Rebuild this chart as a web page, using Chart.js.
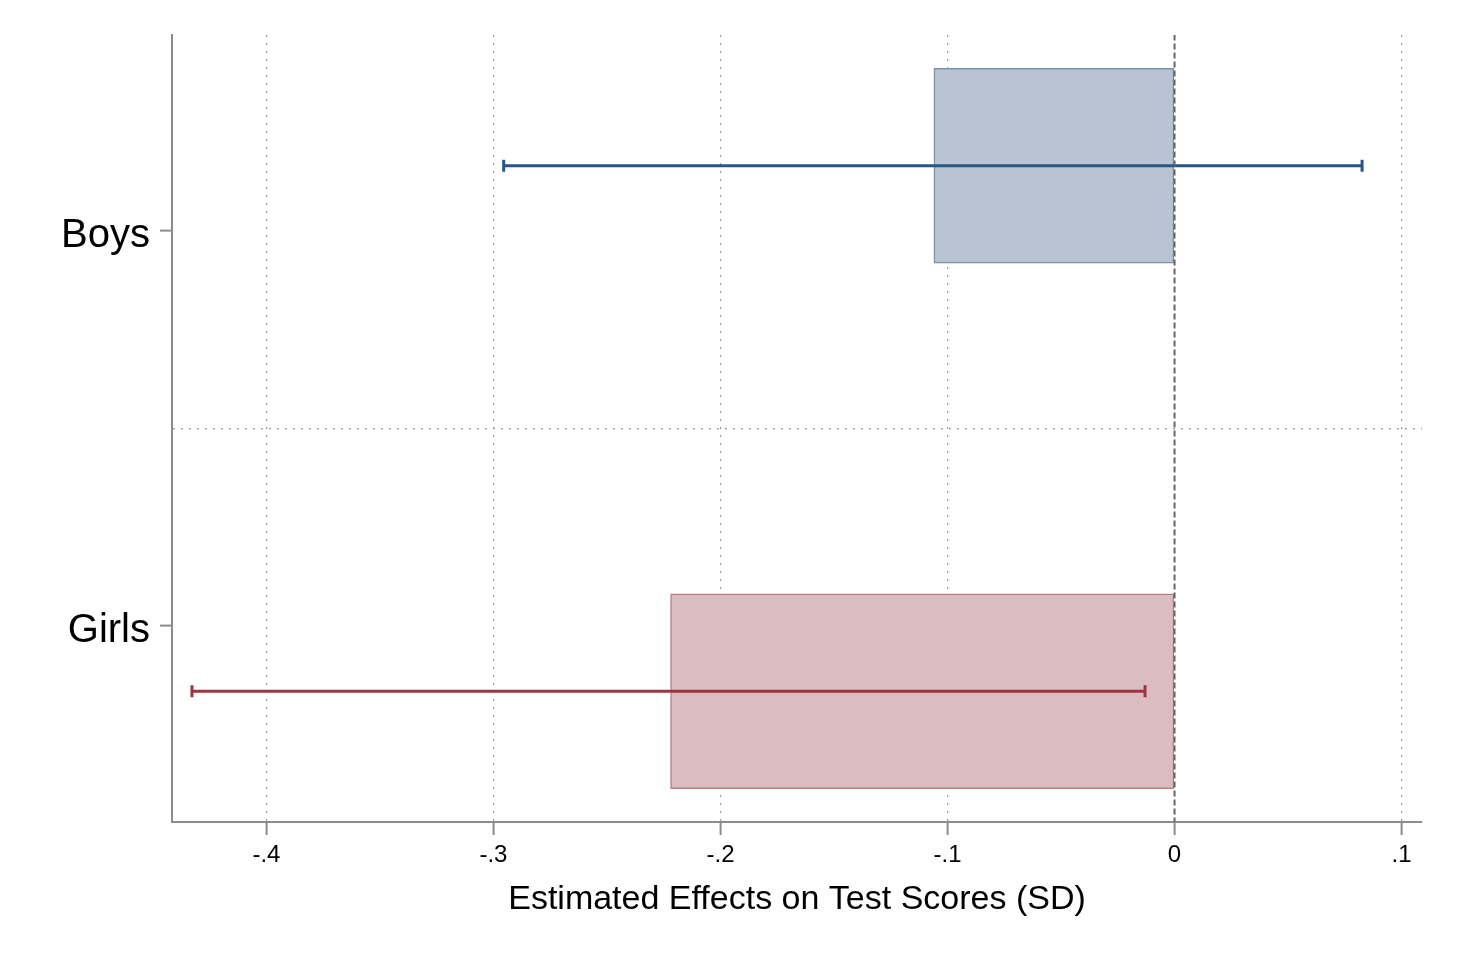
<!DOCTYPE html>
<html>
<head>
<meta charset="utf-8">
<title>Estimated Effects on Test Scores</title>
<script src="https://cdn.jsdelivr.net/npm/chart.js@4.4.1/dist/chart.umd.min.js"></script>
<style>
    html, body { margin: 0; padding: 0; background: #fff; }
    #wrap { width: 1458px; height: 972px; }
</style>
</head>
<body>
<div id="wrap"><canvas id="effectsChart" width="1458" height="972"></canvas></div>
<script>
// ====== Data ======
const groups = ['Boys', 'Girls'];
const groupPos = [2, 1];               // y value of each category tick
const estimates = [-0.106, -0.222];    // point estimate (bar length, SD)
const ciLow = [-0.2955, -0.4328];
const ciHigh = [0.0826, -0.0130];
const xTicks = [-0.4, -0.3, -0.2, -0.1, 0, 0.1];

// bars and CIs sit a bit off the tick
const barShift = [0.165, -0.165];

const barFill = ['rgb(184,196,210)', 'rgb(219,189,193)'];
const barEdge = ['rgb(120,146,176)', 'rgb(188,126,134)'];
const ciColor = ['rgb(38,86,136)', 'rgb(160,52,62)'];

const axisGray = '#8c8c8c';
const gridGray = '#9a9a9a';

(function () {
    const datasets = [];

    // zero reference line
    datasets.push({
        type: 'line',
        data: [{ x: 0, y: 0.5 }, { x: 0, y: 2.5 }],
        borderColor: '#666',
        borderWidth: 2,
        borderDash: [6, 3],
        pointRadius: 0,
        order: 0
    });

    groups.forEach((g, i) => {
        const yc = groupPos[i] + barShift[i];
        // confidence interval
        datasets.push({
            type: 'line',
            label: g + ' CI',
            data: [{ x: ciLow[i], y: yc }, { x: ciHigh[i], y: yc }],
            borderColor: ciColor[i],
            borderWidth: 3,
            pointStyle: 'line',
            rotation: 90,
            pointRadius: 6,
            pointBorderWidth: 3,
            pointBorderColor: ciColor[i],
            order: 1
        });
        // estimate bar
        datasets.push({
            type: 'bar',
            indexAxis: 'y',
            grouped: false,
            label: g,
            data: [{ y: yc, x: [estimates[i], 0] }],
            backgroundColor: barFill[i],
            borderColor: barEdge[i],
            borderWidth: 1.5,
            borderSkipped: false,
            barThickness: 195,
            order: 2
        });
    });

    const fmt = v => {
        if (Math.abs(v) < 1e-9) return '0';
        return v.toFixed(1).replace('0.', '.');
    };

    new Chart(document.getElementById('effectsChart'), {
        type: 'bar',
        data: { datasets },
        options: {
            indexAxis: 'y',
            responsive: false,
            animation: false,
            events: [],
            layout: { padding: { top: 35, right: 36, left: 0, bottom: 0 } },
            plugins: { legend: { display: false }, tooltip: { enabled: false } },
            scales: {
                x: {
                    type: 'linear',
                    min: -0.4416,
                    max: 0.109,
                    afterBuildTicks: s => { s.ticks = xTicks.map(v => ({ value: v })); },
                    afterFit: s => { s.height = 150; },
                    border: { color: axisGray, width: 2, dash: [2, 6] },
                    grid: {
                        color: ctx => (ctx.tick && Math.abs(ctx.tick.value) < 1e-9) ? 'rgba(0,0,0,0)' : gridGray,
                        lineWidth: 1.2,
                        tickLength: 13,
                        tickColor: axisGray,
                        tickWidth: 2,
                        tickBorderDash: []
                    },
                    ticks: {
                        color: '#000',
                        font: { family: '"Liberation Sans", Arial, sans-serif', size: 24 },
                        padding: 6,
                        maxRotation: 0,
                        callback: v => fmt(v)
                    },
                    title: {
                        display: true,
                        text: 'Estimated Effects on Test Scores (SD)',
                        color: '#000',
                        font: { family: '"Liberation Sans", Arial, sans-serif', size: 34 },
                        padding: { top: 0, bottom: 52 }
                    }
                },
                y: {
                    type: 'linear',
                    min: 0.504,
                    max: 2.496,
                    offset: false,
                    afterBuildTicks: s => { s.ticks = [1, 1.5, 2].map(v => ({ value: v })); },
                    afterFit: s => { s.width = 172; },
                    border: { color: axisGray, width: 2, dash: [2, 6] },
                    grid: {
                        offset: false,
                        color: ctx => (ctx.tick && ctx.tick.value === 1.5) ? gridGray : 'rgba(0,0,0,0)',
                        lineWidth: 1.2,
                        tickLength: 12,
                        tickColor: ctx => (ctx.tick && ctx.tick.value === 1.5) ? 'rgba(0,0,0,0)' : axisGray,
                        tickWidth: 2,
                        tickBorderDash: []
                    },
                    ticks: {
                        color: '#000',
                        font: { family: '"Liberation Sans", Arial, sans-serif', size: 40 },
                        padding: 10,
                        labelOffset: 5,
                        callback: v => {
                            const k = groupPos.indexOf(v);
                            return k >= 0 ? groups[k] : '';
                        }
                    }
                }
            }
        }
    });
})();
</script>
</body>
</html>
